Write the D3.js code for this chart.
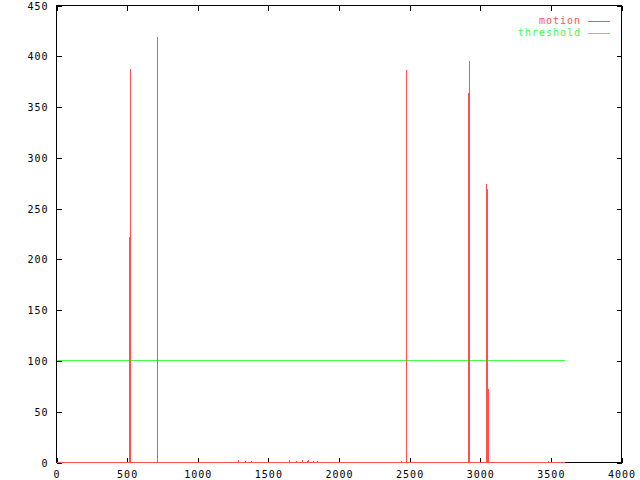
<!DOCTYPE html>
<html><head><meta charset="utf-8">
<script src="https://cdn.jsdelivr.net/npm/d3@7"></script>
<style>
html,body{margin:0;padding:0;background:#fff;}
svg text{font-family:"DejaVu Sans Mono",monospace;font-size:10px;letter-spacing:1px;fill:#000;}
</style></head>
<body>
<svg id="chart" width="640" height="480"></svg>
<script>
// ---- data ----
const motionX = [0, 515, 516, 517, 523, 524, 525, 713, 714, 715, 1290, 1291, 1292, 1340, 1341, 1342, 1380, 1381, 1382,
  1650, 1651, 1652, 1700, 1701, 1702, 1740, 1741, 1742, 1780, 1781, 1782, 1820, 1821, 1822, 1850, 1851, 1852,
  2443, 2444, 2445, 2476, 2477, 2478, 2914, 2915, 2916, 2921, 2922, 2923,
  3045, 3046, 3047, 3052, 3053, 3054, 3059, 3060, 3061, 3479, 3480, 3481, 3600];
const motionY = [0, 0, 222, 0, 0, 387, 0, 0, 419, 0, 0, 2, 0, 0, 1, 0, 0, 1, 0,
  0, 2, 0, 0, 1, 0, 0, 2, 0, 0, 2, 0, 0, 1, 0, 0, 1, 0,
  0, 1, 0, 0, 386, 0, 0, 364, 0, 0, 395, 0,
  0, 274, 0, 0, 269, 0, 0, 72, 0, 0, 1, 0, 0];
const thresholdX = [0, 3600];
const thresholdY = [100, 100];
const xTicks = [0, 500, 1000, 1500, 2000, 2500, 3000, 3500, 4000];
const yTicks = [0, 50, 100, 150, 200, 250, 300, 350, 400, 450];
const seriesNames = ["motion", "threshold"];
const seriesColors = ["#ff5050", "#40ff40"];

// ---- layout ----
const L = 56, R = 621, T = 5, B = 462;
const svg = d3.select("#chart");
const x = d3.scaleLinear().domain([0, 4000]).range([L, R]);
const y = d3.scaleLinear().domain([0, 450]).range([B, T]);

// axes (inward ticks, mirrored)
const gx = svg.append("g").attr("transform", `translate(0.5,${B + 0.5})`)
  .call(d3.axisBottom(x).tickValues(xTicks).tickSize(-5).tickPadding(8).tickFormat(d3.format("d")));
const gxt = svg.append("g").attr("transform", `translate(0.5,${T + 0.5})`)
  .call(d3.axisTop(x).tickValues(xTicks).tickSize(-5).tickFormat(""));
const gy = svg.append("g").attr("transform", `translate(${L + 0.5},0.5)`)
  .call(d3.axisLeft(y).tickValues(yTicks).tickSize(-5).tickPadding(8).tickFormat(d3.format("d")));
const gyr = svg.append("g").attr("transform", `translate(${R + 0.5},0.5)`)
  .call(d3.axisRight(y).tickValues(yTicks).tickSize(-5).tickFormat(""));
[gx, gxt, gy, gyr].forEach(g => {
  g.selectAll(".domain").remove();
  g.selectAll("line").attr("stroke", "#000").attr("shape-rendering", "crispEdges");
  g.selectAll("text").attr("font-family", null).attr("font-size", null).attr("fill", "#000");
});
gy.selectAll("text").attr("dy", "0.36em");
gx.selectAll("text").attr("dy", "0.75em");

// frame
svg.append("rect").attr("x", L + 0.5).attr("y", T + 0.5).attr("width", R - L).attr("height", B - T)
  .attr("fill", "none").attr("stroke", "#000").attr("shape-rendering", "crispEdges");

// lines
const line = d3.line().x(d => x(d[0]) + 0.5).y(d => y(d[1]) + 0.5);
const thrData = thresholdX.map((v, i) => [v, thresholdY[i]]);
const motData = motionX.map((v, i) => [v, motionY[i]]);
svg.append("path").datum(thrData).attr("d", line).attr("fill", "none")
  .attr("stroke", seriesColors[1]).attr("stroke-width", 1).attr("shape-rendering", "crispEdges");
svg.append("path").datum(motData).attr("d", line).attr("fill", "none")
  .attr("stroke", seriesColors[0]).attr("stroke-width", 1).attr("shape-rendering", "crispEdges");

// legend
seriesNames.forEach((name, i) => {
  const yy = 21 + i * 11.5;
  svg.append("text").attr("x", 581).attr("y", yy).attr("dy", "0.32em")
    .attr("text-anchor", "end").style("fill", seriesColors[i]).text(name);
  svg.append("line").attr("x1", 588).attr("x2", 610).attr("y1", Math.round(yy) + 0.5).attr("y2", Math.round(yy) + 0.5)
    .attr("stroke", seriesColors[i]).attr("shape-rendering", "crispEdges");
});
</script>
</body></html>
